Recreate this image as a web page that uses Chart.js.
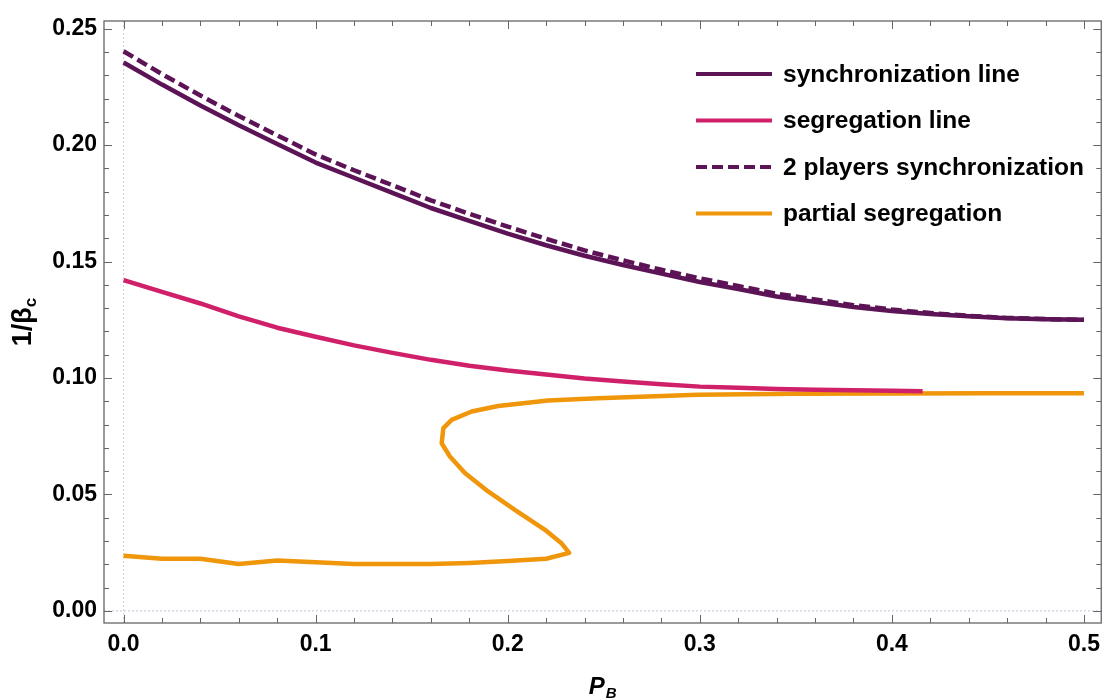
<!DOCTYPE html>
<html>
<head>
<meta charset="utf-8">
<script src="https://cdn.jsdelivr.net/npm/chart.js@4.4.0/dist/chart.umd.min.js"></script>
<style>html,body{margin:0;padding:0;background:#fff}</style>
</head>
<body>
<canvas id="canvas" width="1108" height="698"></canvas>
<script>
// 軸の目盛
var xTicks = [0, 0.1, 0.2, 0.3, 0.4, 0.5];
var yTicks = [0, 0.05, 0.10, 0.15, 0.20, 0.25];

// synchronization line / 2 players
var syncX = [0, 0.02, 0.04, 0.06, 0.08, 0.10, 0.12, 0.14, 0.16, 0.18, 0.20, 0.22, 0.24,
             0.26, 0.28, 0.30, 0.32, 0.34, 0.36, 0.38, 0.40, 0.42, 0.44, 0.46, 0.48, 0.50];
var syncY = [0.2355, 0.2260, 0.2170, 0.2085, 0.2005, 0.1925, 0.1860, 0.1795, 0.1730, 0.1675, 0.1620, 0.1570, 0.1525,
             0.1485, 0.1448, 0.1412, 0.1382, 0.1350, 0.1327, 0.1305, 0.1288, 0.1275, 0.1265, 0.1257, 0.1252, 0.1250];
var sync2Y = [0.2403, 0.2305, 0.2213, 0.2125, 0.2042, 0.1960, 0.1892, 0.1828, 0.1763, 0.1705, 0.1650, 0.1598, 0.1548,
              0.1505, 0.1465, 0.1428, 0.1395, 0.1362, 0.1337, 0.1313, 0.1294, 0.1279, 0.1267, 0.1258, 0.1253, 0.1250];

// segregation line
var segX = [0, 0.02, 0.04, 0.06, 0.08, 0.10, 0.12, 0.14, 0.16, 0.18, 0.20, 0.22,
            0.24, 0.26, 0.28, 0.30, 0.32, 0.34, 0.36, 0.38, 0.40, 0.416];
var segY = [0.1420, 0.1370, 0.1320, 0.1265, 0.1216, 0.1177, 0.1140, 0.1108, 0.1078, 0.1053, 0.1032, 0.1015,
            0.0998, 0.0985, 0.0973, 0.0963, 0.0958, 0.0953, 0.0950, 0.0947, 0.0945, 0.0943];

// partial segregation (下の枝 -> 折り返し -> 上の枝)
var partX = [0, 0.02, 0.04, 0.06, 0.08, 0.10, 0.12, 0.14, 0.16, 0.18, 0.20, 0.22, 0.232,
             0.2278, 0.2192, 0.2037, 0.1898, 0.1777, 0.1699, 0.1656, 0.1665, 0.1708, 0.1812,
             0.195, 0.221, 0.2469, 0.2988, 0.35, 0.40, 0.45, 0.50];
var partY = [0.0237, 0.0224, 0.0224, 0.0201, 0.0216, 0.0209, 0.0201, 0.0201, 0.0201, 0.0206, 0.0214, 0.0224, 0.0249,
             0.0292, 0.0349, 0.0434, 0.0513, 0.0592, 0.0663, 0.0720, 0.0785, 0.0820, 0.0856,
             0.0880, 0.0903, 0.0913, 0.0928, 0.0932, 0.0934, 0.0935, 0.0935];

function toXY(xs, ys) {
  return xs.map(function(x, i) { return {x: x, y: ys[i]}; });
}

var PURPLE = '#5c1456';
var PINK = '#d0206a';
var ORANGE = '#f0960a';
var FONT = '"Liberation Sans", Arial, sans-serif';

// 枠・内向き目盛・軸タイトル・凡例
var decorations = {
  id: 'decorations',
  beforeDatasetsDraw: function(chart) {
    var ctx = chart.ctx, a = chart.chartArea;
    var xs = chart.scales.x, ys = chart.scales.y;
    ctx.save();
    ctx.lineWidth = 1;
    ctx.setLineDash([2, 2]);
    var x0 = xs.getPixelForValue(0);
    ctx.strokeStyle = 'rgba(220,170,170,0.7)';
    ctx.beginPath(); ctx.moveTo(x0, a.top); ctx.lineTo(x0, a.bottom); ctx.stroke();
    var y0 = ys.getPixelForValue(0);
    ctx.strokeStyle = 'rgba(170,170,210,0.7)';
    ctx.beginPath(); ctx.moveTo(a.left, y0); ctx.lineTo(a.right, y0); ctx.stroke();
    ctx.restore();
  },
  afterDatasetsDraw: function(chart) {
    var ctx = chart.ctx, a = chart.chartArea;
    var xs = chart.scales.x, ys = chart.scales.y;
    ctx.save();
    ctx.strokeStyle = '#666';
    ctx.lineWidth = 1.3;
    ctx.strokeRect(a.left, a.top, a.right - a.left, a.bottom - a.top);
    ctx.lineWidth = 1;
    ctx.beginPath();
    var i, v, p, len;
    for (i = 0; i <= 25; i++) {
      v = i * 0.02;
      p = Math.round(xs.getPixelForValue(v)) + 0.5;
      len = (i % 5 === 0) ? 8 : 5;
      ctx.moveTo(p, a.bottom); ctx.lineTo(p, a.bottom - len);
      ctx.moveTo(p, a.top); ctx.lineTo(p, a.top + len);
    }
    for (i = 0; i <= 25; i++) {
      v = i * 0.01;
      p = Math.round(ys.getPixelForValue(v)) + 0.5;
      len = (i % 5 === 0) ? 8 : 5;
      ctx.moveTo(a.left, p); ctx.lineTo(a.left + len, p);
      ctx.moveTo(a.right, p); ctx.lineTo(a.right - len, p);
    }
    ctx.stroke();

    // 軸タイトル
    ctx.fillStyle = '#000';
    ctx.textBaseline = 'alphabetic';
    var cx = (a.left + a.right) / 2;
    ctx.font = 'italic bold 24px ' + FONT;
    var wP = ctx.measureText('P').width;
    ctx.font = 'italic bold 15px ' + FONT;
    var wB = ctx.measureText('B').width;
    var sx = cx - (wP + wB + 1) / 2;
    ctx.font = 'italic bold 24px ' + FONT;
    ctx.fillText('P', sx, 694);
    ctx.font = 'italic bold 15px ' + FONT;
    ctx.fillText('B', sx + wP + 1, 698);

    ctx.save();
    ctx.translate(31, (a.top + a.bottom) / 2);
    ctx.rotate(-Math.PI / 2);
    ctx.font = 'bold 27px ' + FONT;
    var wMain = ctx.measureText('1/β').width;
    ctx.font = 'bold 17px ' + FONT;
    var wc = ctx.measureText('c').width;
    var ty = -(wMain + wc) / 2;
    ctx.font = 'bold 27px ' + FONT;
    ctx.fillText('1/β', ty, 0);
    ctx.font = 'bold 17px ' + FONT;
    ctx.fillText('c', ty + wMain, 5);
    ctx.restore();

    // 凡例
    ctx.font = 'bold 24.5px ' + FONT;
    ctx.textBaseline = 'middle';
    chart.data.datasets.forEach(function(ds, k) {
      var ly = 74 + k * 46.5;
      ctx.save();
      ctx.strokeStyle = ds.borderColor;
      ctx.lineWidth = 4;
      ctx.setLineDash(ds.borderDash || []);
      ctx.beginPath(); ctx.moveTo(696, ly); ctx.lineTo(772, ly); ctx.stroke();
      ctx.restore();
      ctx.fillStyle = '#000';
      ctx.fillText(ds.label, 783, ly + 1);
    });
    ctx.restore();
  }
};

var tickFont = {family: FONT, size: 23, weight: 'bold'};

var plotData = {
  datasets: [
    { label: 'synchronization line', data: toXY(syncX, syncY),
      borderColor: PURPLE, borderWidth: 4.5 },
    { label: 'segregation line', data: toXY(segX, segY),
      borderColor: PINK, borderWidth: 4.5 },
    { label: '2 players synchronization', data: toXY(syncX, sync2Y),
      borderColor: PURPLE, borderWidth: 4.5, borderDash: [11, 5] },
    { label: 'partial segregation', data: toXY(partX, partY),
      borderColor: ORANGE, borderWidth: 4.5 }
  ]
};
plotData.datasets.forEach(function(ds) {
  ds.showLine = true;
  ds.pointRadius = 0;
  ds.tension = 0;
  ds.fill = false;
  ds.borderJoinStyle = 'round';
});

new Chart(document.getElementById('canvas').getContext('2d'), {
  type: 'scatter',
  data: plotData,
  plugins: [decorations],
  options: {
    responsive: false,
    animation: false,
    devicePixelRatio: 1,
    layout: {padding: {top: 21, right: 3, left: 0, bottom: 0}},
    plugins: {legend: {display: false}, tooltip: {enabled: false}},
    scales: {
      x: {
        type: 'linear', min: -0.0102, max: 0.509,
        afterBuildTicks: function(s) { s.ticks = xTicks.map(function(v) { return {value: v}; }); },
        afterFit: function(s) { s.height = 75; },
        ticks: {callback: function(v) { return v.toFixed(1); }, font: tickFont, color: '#000', padding: 8, maxRotation: 0},
        grid: {display: false, drawTicks: false},
        border: {display: false}
      },
      y: {
        type: 'linear', min: -0.0052, max: 0.2533,
        afterBuildTicks: function(s) { s.ticks = yTicks.map(function(v) { return {value: v}; }); },
        afterFit: function(s) { s.width = 104; },
        ticks: {callback: function(v) { return v.toFixed(2); }, font: tickFont, color: '#000', padding: 7},
        grid: {display: false, drawTicks: false},
        border: {display: false}
      }
    }
  }
});
</script>
</body>
</html>
